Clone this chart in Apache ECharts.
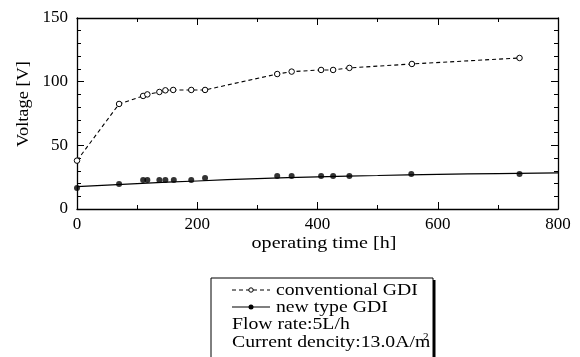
<!DOCTYPE html>
<html><head><meta charset="utf-8">
<script src="https://cdn.jsdelivr.net/npm/echarts@6/dist/echarts.min.js"></script>
<style>html,body{margin:0;padding:0;background:#fff}#c{width:580px;height:357px}</style>
</head><body><div id="c"></div>
<script>
var timeConv = [0, 70, 110, 117, 137, 147, 160, 190, 213, 333, 357, 406, 426, 453, 557, 736];
var voltConv = [38, 82.5, 88.8, 90, 91.9, 93.2, 93.5, 93.5, 93.5, 106, 107.9, 109.2, 109.2, 110.8, 113.9, 118.6];
var timeNew = [0, 70, 110, 117, 137, 147, 161, 190, 213, 333, 357, 406, 426, 453, 556, 736];
var voltNew = [16.5, 19.6, 22.8, 22.8, 22.8, 22.8, 22.8, 22.8, 24.4, 25.9, 25.9, 25.9, 25.9, 25.9, 27.5, 27.5];
var fitTime = [0, 100, 200, 300, 400, 500, 600, 700, 800];
var fitVolt = [17.5, 20, 22, 23.9, 25.3, 26.3, 27.2, 27.8, 28.3];
var xTicks = [0, 200, 400, 600, 800];
var yTicks = [0, 50, 100, 150];
var xTitle = 'operating time [h]';
var yTitle = 'Voltage [V]';
var legendLabels = ['conventional GDI', 'new type GDI', 'Flow rate:5L/h', 'Current dencity:13.0A/m'];

function pairs(a, b) { return a.map(function (v, i) { return [v, b[i]]; }); }
var font = 'Liberation Serif';
var chart = echarts.init(document.getElementById('c'));
function axisCommon(show) {
  return {
    axisLine: { show: true, onZero: false, lineStyle: { color: '#000', width: 1.3 } },
    axisTick: { show: true, inside: true, length: 7, lineStyle: { color: '#000', width: 1 } },
    minorTick: { show: true, length: 4, lineStyle: { color: '#000', width: 1 } },
    splitLine: { show: false },
    axisLabel: { show: show, color: '#000', fontFamily: font, fontSize: 17 }
  };
}
var xa = Object.assign({ type: 'value', position: 'bottom', min: xTicks[0], max: xTicks[xTicks.length - 1], interval: 200 }, axisCommon(true));
xa.minorTick.splitNumber = 2; xa.axisLabel.margin = 7;
var xb = Object.assign({ type: 'value', position: 'top', min: 0, max: 800, interval: 200 }, axisCommon(false));
xb.minorTick.splitNumber = 2;
var ya = Object.assign({ type: 'value', position: 'left', min: yTicks[0], max: yTicks[yTicks.length - 1], interval: 50 }, axisCommon(true));
ya.minorTick.splitNumber = 5; ya.axisLabel.margin = 9;
var yb = Object.assign({ type: 'value', position: 'right', min: 0, max: 150, interval: 50 }, axisCommon(false));
yb.minorTick.splitNumber = 5;

function txt(x, y, s, size, sx, extra) {
  var o = { type: 'text', x: x, y: y, scaleX: sx, z: 3,
    style: { text: s, font: size + 'px ' + font, fill: '#000', verticalAlign: 'middle' } };
  return Object.assign(o, extra || {});
}
var lx = 211, ly = 278;
chart.setOption({
  animation: false,
  backgroundColor: '#fff',
  grid: { left: 77, right: 22, top: 18, bottom: 148 },
  xAxis: [xa, xb],
  yAxis: [ya, yb],
  series: [
    { name: legendLabels[0], type: 'line', data: pairs(timeConv, voltConv), symbol: 'circle', symbolSize: 5.5,
      showSymbol: true, showAllSymbol: true,
      itemStyle: { color: '#fff', borderColor: '#000', borderWidth: 1 },
      lineStyle: { color: '#000', width: 1.1, type: [4, 3] }, z: 3 },
    { name: 'fit', type: 'line', data: pairs(fitTime, fitVolt), smooth: true, symbol: 'none',
      lineStyle: { color: '#000', width: 1.2 } },
    { name: legendLabels[1], type: 'scatter', data: pairs(timeNew, voltNew), symbol: 'circle', symbolSize: 6,
      itemStyle: { color: '#000' }, z: 4 }
  ],
  graphic: [
    { type: 'text', x: 324, y: 244, scaleX: 1.18, z: 3,
      style: { text: xTitle, font: '17px ' + font, fill: '#000', align: 'center', verticalAlign: 'middle' } },
    { type: 'text', x: 24, y: 104, rotation: Math.PI / 2, scaleX: 1.08, z: 3,
      style: { text: yTitle, font: '17px ' + font, fill: '#000', align: 'center', verticalAlign: 'middle' } },
    { type: 'rect', shape: { x: lx + 2.5, y: ly + 2, width: 222, height: 90 }, style: { fill: '#000' }, z: 1 },
    { type: 'rect', shape: { x: lx, y: ly, width: 222, height: 90 }, style: { fill: '#fff', stroke: '#000', lineWidth: 1 }, z: 2 },
    { type: 'line', shape: { x1: 232, y1: 290, x2: 270, y2: 290 }, style: { stroke: '#000', lineWidth: 1, lineDash: [4, 3] }, z: 3 },
    { type: 'circle', shape: { cx: 251, cy: 290, r: 2.2 }, style: { fill: '#fff', stroke: '#000', lineWidth: 1 }, z: 4 },
    { type: 'line', shape: { x1: 232, y1: 307, x2: 270, y2: 307 }, style: { stroke: '#000', lineWidth: 1.2 }, z: 3 },
    { type: 'circle', shape: { cx: 251, cy: 307, r: 2.5 }, style: { fill: '#000' }, z: 4 },
    txt(276, 291, legendLabels[0], 17, 1.16),
    txt(276, 308, legendLabels[1], 17, 1.16),
    txt(232, 325, legendLabels[2], 17, 1.16),
    txt(232, 343, legendLabels[3], 17, 1.16),
    txt(423, 337, '2', 11, 1.0)
  ]
});
</script></body></html>
